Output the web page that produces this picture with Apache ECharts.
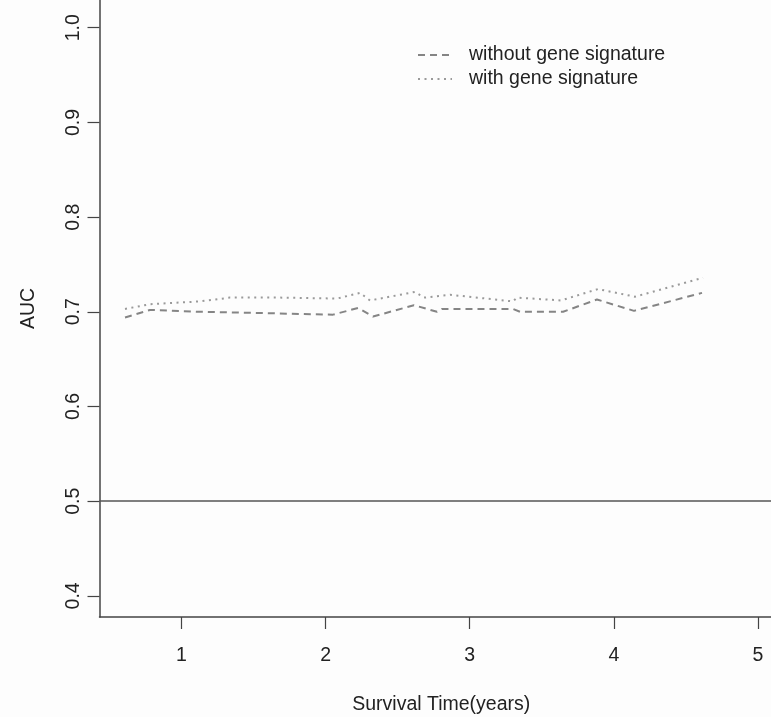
<!DOCTYPE html>
<html>
<head>
<meta charset="utf-8">
<script src="https://cdn.jsdelivr.net/npm/echarts@6/dist/echarts.min.js"></script>
<style>
  html, body { margin: 0; padding: 0; background: #fdfdfd; }
  #chart { width: 771px; height: 717px; }
</style>
</head>
<body>
<div id="chart"></div>
<script>
// ---- data ----
const timesWithout = [0.608, 0.781, 1.128, 1.475, 1.753, 2.051, 2.225, 2.329, 2.613, 2.773, 2.808, 3.300, 3.349, 3.648, 3.883, 4.140, 4.612];
const aucWithout   = [0.694, 0.702, 0.700, 0.699, 0.698, 0.697, 0.704, 0.695, 0.707, 0.700, 0.703, 0.703, 0.700, 0.700, 0.713, 0.701, 0.720];
const timesWith    = [0.608, 0.781, 1.128, 1.336, 1.684, 2.079, 2.239, 2.308, 2.620, 2.683, 2.864, 3.300, 3.328, 3.634, 3.890, 4.147, 4.619];
const aucWith      = [0.703, 0.708, 0.711, 0.715, 0.715, 0.714, 0.720, 0.712, 0.721, 0.715, 0.718, 0.711, 0.715, 0.712, 0.724, 0.716, 0.736];
const xTicks = [1, 2, 3, 4, 5];
const yTicks = [0.4, 0.5, 0.6, 0.7, 0.8, 0.9, 1.0];
const refLine = 0.5;
const seriesNames = ['without gene signature', 'with gene signature'];
const xName = 'Survival Time(years)';
const yName = 'AUC';

const pair = (xs, ys) => xs.map((x, i) => [x, ys[i]]);
const font = 'Liberation Sans, Arial, Helvetica, sans-serif';

const chart = echarts.init(document.getElementById('chart'), null, { renderer: 'canvas' });
chart.setOption({
  backgroundColor: '#fdfdfd',
  animation: false,
  grid: { left: 99.5, top: 0, right: -12, bottom: 100, containLabel: false, outerBoundsMode: 'none' },
  legend: {
    orient: 'vertical',
    left: 412,
    top: 40,
    itemWidth: 34,
    itemHeight: 14,
    itemGap: 4,
    itemStyle: { opacity: 0 },
    textStyle: { fontFamily: font, fontSize: 19.5, color: '#222', lineHeight: 20, padding: [0, 0, 0, 12] },
    data: seriesNames
  },
  xAxis: {
    type: 'value',
    min: 0.431,
    max: 5.174,
    name: xName,
    nameLocation: 'middle',
    nameGap: 78,
    nameTextStyle: { fontFamily: font, fontSize: 19.5, color: '#222' },
    axisLine: { onZero: false, lineStyle: { color: '#444', width: 1.5 } },
    axisTick: { customValues: xTicks, length: 12, lineStyle: { color: '#444', width: 1.2 } },
    axisLabel: { customValues: xTicks, margin: 29, fontFamily: font, fontSize: 19.5, color: '#222' },
    splitLine: { show: false }
  },
  yAxis: {
    type: 'value',
    min: 0.3777,
    max: 1.0293,
    name: yName,
    nameLocation: 'middle',
    nameGap: 61,
    nameRotate: 90,
    nameTextStyle: { fontFamily: font, fontSize: 19.5, color: '#222' },
    axisLine: { show: true, onZero: false, lineStyle: { color: '#444', width: 1.5 } },
    axisTick: { show: true, customValues: yTicks, length: 12, lineStyle: { color: '#444', width: 1.2 } },
    axisLabel: {
      customValues: yTicks, rotate: 90, margin: 16,
      fontFamily: font, fontSize: 19.5, color: '#222',
      formatter: v => v.toFixed(1)
    },
    splitLine: { show: false }
  },
  series: [
    {
      name: seriesNames[0],
      type: 'line',
      symbol: 'none',
      data: pair(timesWithout, aucWithout),
      lineStyle: { color: '#858585', width: 2, type: [7, 5] },
      itemStyle: { color: '#858585' },
      markLine: {
        silent: true,
        symbol: 'none',
        label: { show: false },
        lineStyle: { color: '#555', width: 1.5, type: 'solid' },
        data: [{ yAxis: refLine }]
      }
    },
    {
      name: seriesNames[1],
      type: 'line',
      symbol: 'none',
      data: pair(timesWith, aucWith),
      lineStyle: { color: '#9a9a9a', width: 2, type: [2, 4.5] },
      itemStyle: { color: '#9a9a9a' }
    }
  ]
});
</script>
</body>
</html>
